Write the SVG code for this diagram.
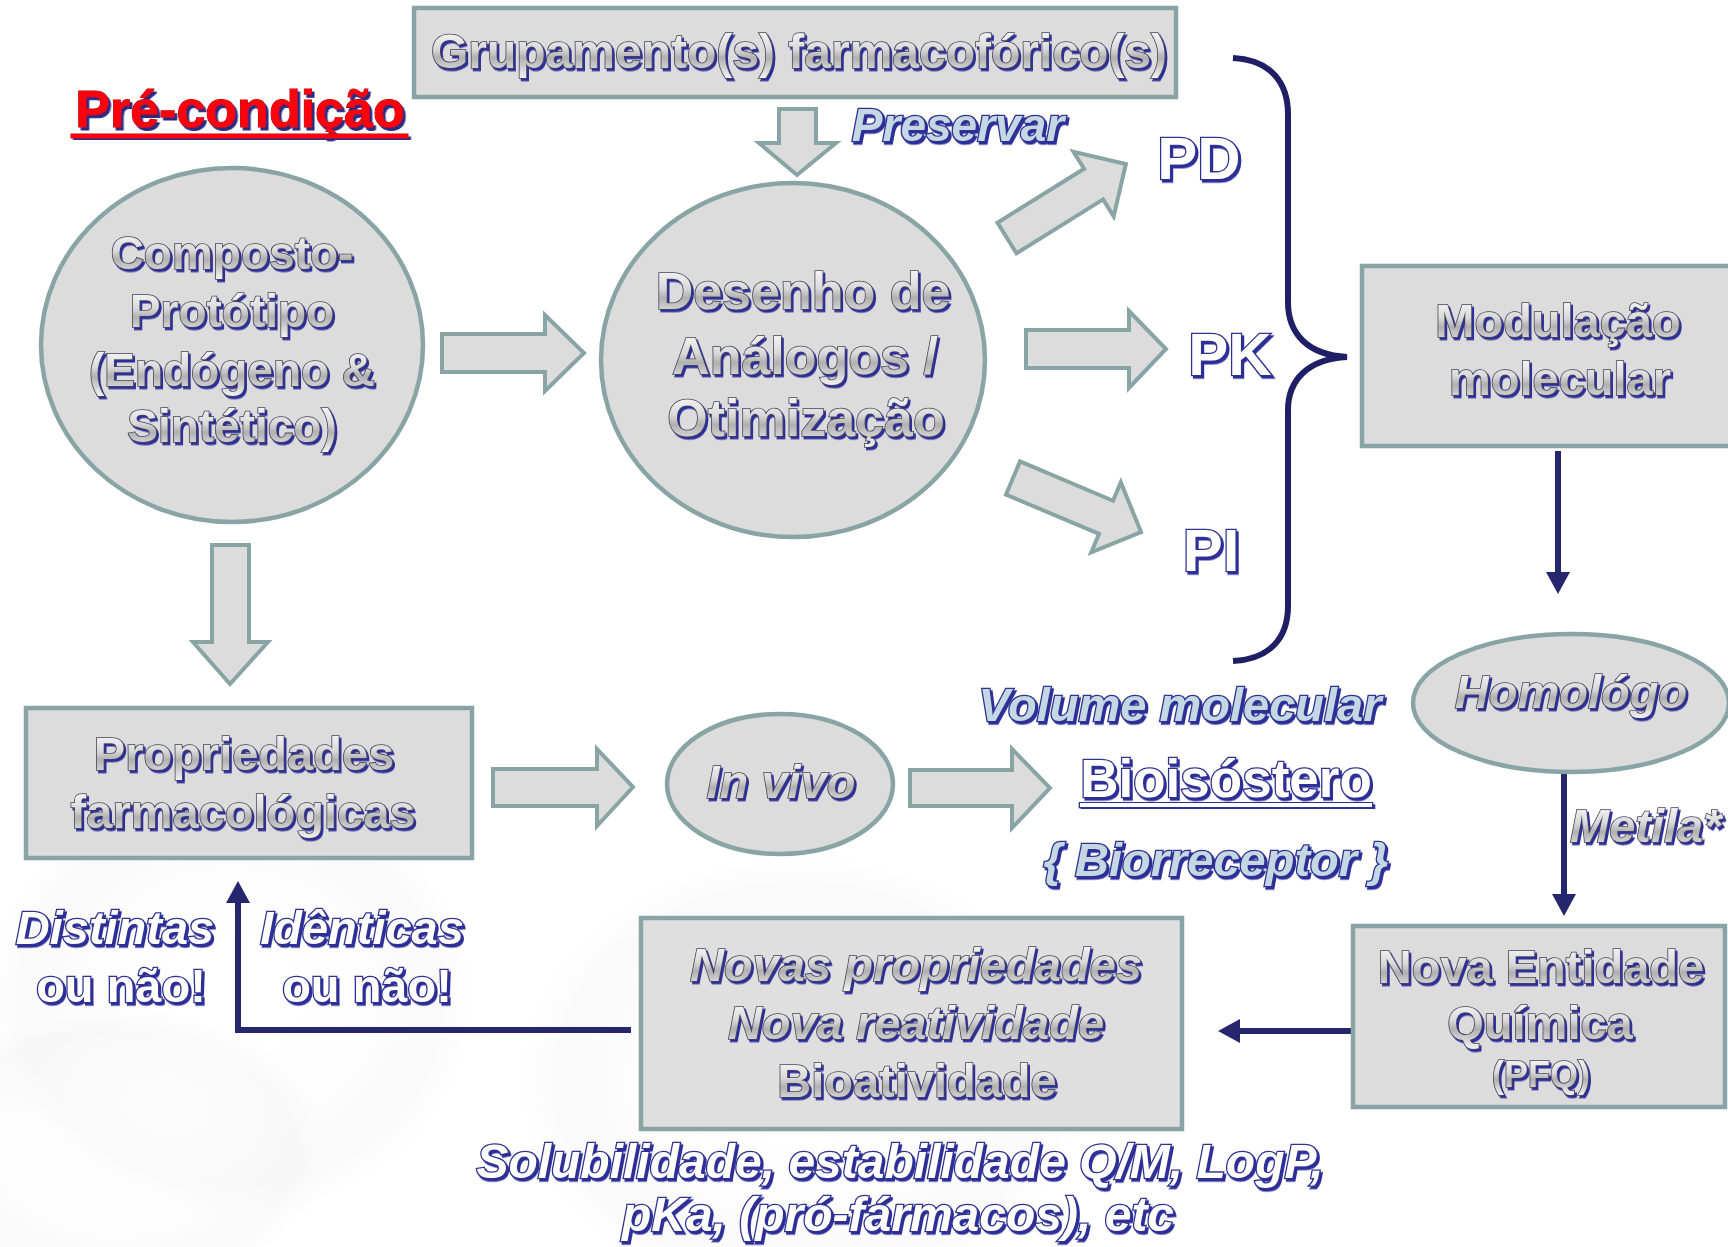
<svg xmlns="http://www.w3.org/2000/svg" width="1728" height="1247" viewBox="0 0 1728 1247">
<defs>
<style>
.node{fill:#dcdcdc;stroke:#89a4a4;stroke-width:4.5}
.blk{fill:#dcdcdc;stroke:#89a4a4;stroke-width:4;stroke-linejoin:miter}
.nav{fill:none;stroke:#26266e;stroke-width:6}
text{font-family:"Liberation Sans",Arial,sans-serif;font-weight:bold;text-anchor:middle}
.it{font-style:italic}
.sil{fill:url(#silver);stroke:#44445a;stroke-width:1.6;paint-order:stroke;filter:url(#sh)}
.lb{fill:#c4d8e4;stroke:#2e3192;stroke-width:2.6;paint-order:stroke;filter:url(#sh)}
.wb{fill:#ffffff;stroke:#2e3192;stroke-width:2.6;paint-order:stroke;filter:url(#sh)}
.red{fill:#ff0010;stroke:#b00000;stroke-width:1;paint-order:stroke;filter:url(#shr)}
</style>
<linearGradient id="silver" x1="0" y1="0" x2="0" y2="1">
<stop offset="0" stop-color="#ffffff"/>
<stop offset="0.45" stop-color="#dadada"/>
<stop offset="0.62" stop-color="#b0b0b0"/>
<stop offset="1" stop-color="#f2f2f2"/>
</linearGradient>
<radialGradient id="blob" cx="0.5" cy="0.5" r="0.5">
<stop offset="0" stop-color="#ffffff" stop-opacity="0"/>
<stop offset="0.8" stop-color="#efefef" stop-opacity="0.35"/>
<stop offset="1" stop-color="#ffffff" stop-opacity="0"/>
</radialGradient>
<filter id="sh" x="-5%" y="-10%" width="115%" height="140%">
<feDropShadow dx="2" dy="2.5" stdDeviation="0.4" flood-color="#2e2e9a" flood-opacity="1"/>
</filter>
<filter id="shr" x="-5%" y="-10%" width="115%" height="140%">
<feDropShadow dx="2.5" dy="3" stdDeviation="0.3" flood-color="#2a2a80" flood-opacity="1"/>
</filter>
<marker id="ah" viewBox="0 0 22 24" markerWidth="22" markerHeight="24" markerUnits="userSpaceOnUse" refX="4" refY="12" orient="auto">
<path d="M0,0 L22,12 L0,24 Z" fill="#26266e"/>
</marker>
</defs>
<rect width="1728" height="1247" fill="#ffffff"/>

<g id="background">
<ellipse cx="230" cy="1000" rx="260" ry="230" fill="url(#blob)"/>
<ellipse cx="800" cy="1080" rx="300" ry="240" fill="url(#blob)"/>
<ellipse cx="120" cy="1150" rx="220" ry="150" fill="url(#blob)"/>
</g>

<g id="connectors">
<polygon class="blk" points="442,334 545,334 545,315 584,353 545,391 545,372 442,372"/>
<polygon class="blk" points="779,109 816,109 816,143 836,143 797,175 759,143 779,143"/>
<polygon class="blk" transform="translate(1007,238) rotate(-31.9)" points="0,-18 102,-18 102,-38 140,0 102,38 102,18 0,18"/>
<polygon class="blk" points="1026,330 1129,330 1129,311 1166,349 1129,388 1129,368 1026,368"/>
<polygon class="blk" transform="translate(1013,478) rotate(22.9)" points="0,-18 101,-18 101,-38 139,0 101,38 101,18 0,18"/>
<polygon class="blk" points="212,545 249,545 249,642 268,642 230,684 193,642 212,642"/>
<polygon class="blk" points="493,769 597,769 597,749 633,787 597,826 597,806 493,806"/>
<polygon class="blk" points="910,770 1012,770 1012,749 1050,788 1012,828 1012,806 910,806"/>
<path d="M1233,58 C1272,60 1288,84 1288,114 L1288,302 C1288,334 1308,355 1347,357 C1308,359 1288,380 1288,410 L1288,606 C1288,638 1270,659 1233,661" fill="none" stroke="#1f1f66" stroke-width="6"/>
<line class="nav" x1="1558" y1="451" x2="1558" y2="576" marker-end="url(#ah)"/>
<line class="nav" x1="1564" y1="772" x2="1564" y2="898" marker-end="url(#ah)"/>
<line class="nav" x1="1353" y1="1031" x2="1236" y2="1031" marker-end="url(#ah)"/>
<path class="nav" d="M631,1030 L238,1030 L238,899" marker-end="url(#ah)"/>
</g>

<g id="precondicao">
<text class="red" x="240" y="127" font-size="52">Pré-condição</text>
<rect class="red" x="71" y="134" width="337" height="4" stroke="none"/>
</g>

<g id="grupamento">
<rect class="node" x="414" y="8" width="762" height="89"/>
<text class="sil" x="799" y="68" font-size="48">Grupamento(s) farmacofórico(s)</text>
</g>

<g id="preservar">
<text class="lb it" x="958" y="141" font-size="46">Preservar</text>
</g>

<g id="composto">
<ellipse class="node" cx="232" cy="345" rx="191" ry="177"/>
<text class="sil" x="232" y="269" font-size="46">Composto-</text>
<text class="sil" x="232" y="327" font-size="46">Protótipo</text>
<text class="sil" x="232" y="386" font-size="46">(Endógeno &amp;</text>
<text class="sil" x="232" y="442" font-size="46">Sintético)</text>
</g>

<g id="desenho">
<ellipse class="node" cx="793" cy="360" rx="192" ry="177"/>
<text class="sil" x="803" y="309" font-size="52">Desenho de</text>
<text class="sil" x="805" y="374" font-size="52">Análogos /</text>
<text class="sil" x="806" y="436" font-size="52">Otimização</text>
</g>

<g id="pd"><text class="wb" x="1199" y="179" font-size="60">PD</text></g>
<g id="pk"><text class="wb" x="1230" y="375" font-size="60">PK</text></g>
<g id="pi"><text class="wb" x="1211" y="571" font-size="60">PI</text></g>

<g id="modulacao">
<rect class="node" x="1362" y="266" width="400" height="180"/>
<text class="sil" x="1558" y="337" font-size="47">Modulação</text>
<text class="sil" x="1560" y="395" font-size="47">molecular</text>
</g>

<g id="homologo">
<ellipse class="node" cx="1571" cy="703" rx="158" ry="69"/>
<text class="sil it" x="1571" y="708" font-size="47">Homológo</text>
</g>

<g id="metila">
<text class="sil it" x="1570" y="842" font-size="47" style="text-anchor:start">Metila*</text>
</g>

<g id="nova-entidade">
<rect class="node" x="1353" y="926" width="372" height="181"/>
<text class="sil" x="1541" y="983" font-size="47">Nova Entidade</text>
<text class="sil" x="1540" y="1039" font-size="47">Química</text>
<text class="sil" x="1541" y="1087" font-size="36">(PFQ)</text>
</g>

<g id="novas-propriedades">
<rect class="node" x="641" y="918" width="541" height="211" fill-opacity="0.9"/>
<text class="sil it" x="916" y="981" font-size="47">Novas propriedades</text>
<text class="sil it" x="916" y="1039" font-size="47">Nova reatividade</text>
<text class="sil" x="917" y="1097" font-size="47">Bioatividade</text>
</g>

<g id="propriedades">
<rect class="node" x="26" y="708" width="446" height="150"/>
<text class="sil" x="244" y="770" font-size="47">Propriedades</text>
<text class="sil" x="243" y="828" font-size="47">farmacológicas</text>
</g>

<g id="in-vivo">
<ellipse class="node" cx="780" cy="784" rx="113" ry="70"/>
<text class="sil it" x="781" y="798" font-size="47">In vivo</text>
</g>

<g id="volume">
<text class="lb it" x="1180" y="721" font-size="47">Volume molecular</text>
</g>

<g id="bioisostero">
<text class="wb" x="1226" y="797" font-size="53">Bioisóstero</text>
<rect class="wb" x="1080" y="803" width="292" height="4" stroke-width="1.5"/>
</g>

<g id="biorreceptor">
<text class="lb it" x="1216" y="876" font-size="47">{ Biorreceptor }</text>
</g>

<g id="distintas">
<text class="wb it" x="115" y="944" font-size="47">Distintas</text>
<text class="wb" x="121" y="1002" font-size="47">ou não!</text>
</g>

<g id="identicas">
<text class="wb it" x="362" y="944" font-size="47">Idênticas</text>
<text class="wb" x="367" y="1002" font-size="47">ou não!</text>
</g>

<g id="propriedades-lista">
<text class="wb it" x="900" y="1178" font-size="48">Solubilidade, estabilidade Q/M, LogP,</text>
<text class="wb it" x="898" y="1231" font-size="48">pKa, (pró-fármacos), etc</text>
</g>
</svg>
